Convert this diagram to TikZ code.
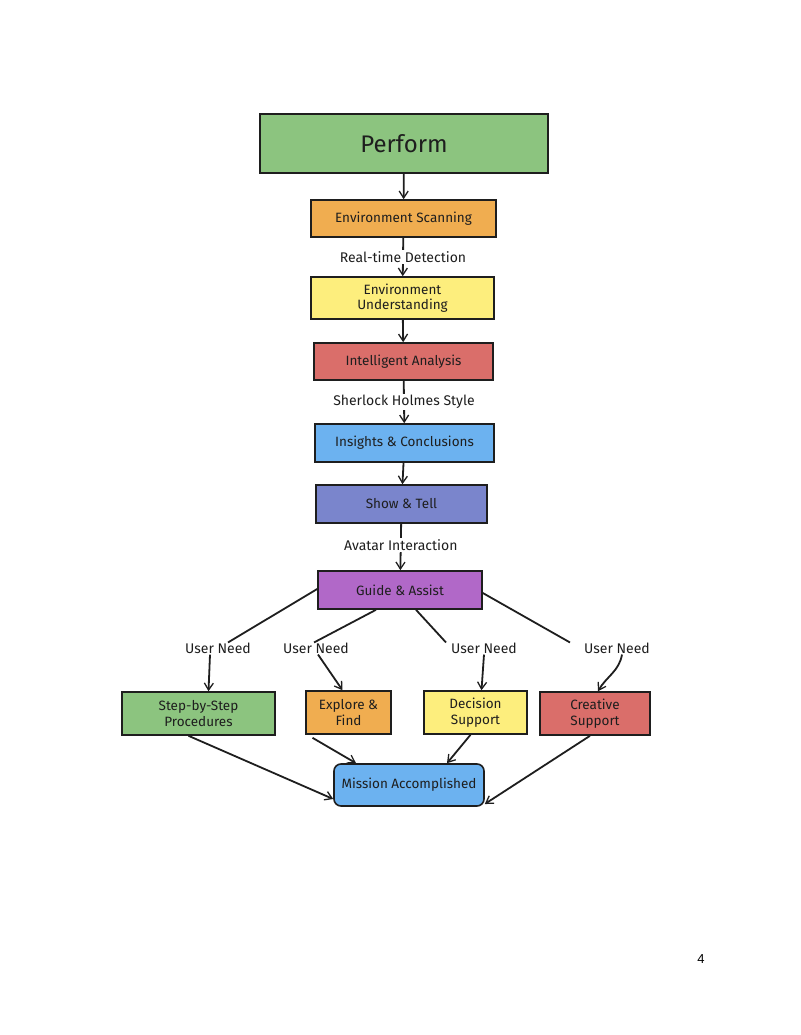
\documentclass[tikz,border=0pt]{standalone}
\usepackage{fontspec}
\setmainfont{Fira Sans}
\newfontfamily\pagefont{Liberation Sans}
\usetikzlibrary{arrows.meta,calc}
\definecolor{ink}{HTML}{1E1E1E}
\definecolor{cgreen}{RGB}{140,196,127}
\definecolor{corange}{RGB}{240,173,80}
\definecolor{cyellow}{RGB}{253,238,125}
\definecolor{cred}{RGB}{218,110,106}
\definecolor{cblue}{RGB}{108,178,240}
\definecolor{cindigo}{RGB}{122,133,204}
\definecolor{cpurple}{RGB}{177,104,200}
\tikzset{
  box/.style={draw=ink, line width=1.6pt, inner sep=0pt, align=center, font=\fontsize{13.5}{15.5}\selectfont, text=ink},
  lbl/.style={fill=white, inner sep=1.5pt, font=\fontsize{14}{16}\selectfont, text=ink},
  conn/.style={draw=ink, line width=1.8pt},
  arr/.style={conn, -{Straight Barb[length=7pt,width=9pt,line width=1.3pt]}},
}
\begin{document}
\begin{tikzpicture}[x=1pt,y=-1pt]
\useasboundingbox (0,0) rectangle (800,1035);
% nodes
\node[box, fill=cgreen, minimum width=288, minimum height=59, font=\fontsize{24}{28}\selectfont] (perf) at (404,143.5) {Perform};
\node[box, fill=corange, minimum width=185, minimum height=37] (scan) at (403.5,218.5) {Environment Scanning};
\node[box, fill=cyellow, minimum width=183, minimum height=42] (und) at (402.5,298) {Environment\\Understanding};
\node[box, fill=cred, minimum width=179, minimum height=37] (ana) at (403.5,361.5) {Intelligent Analysis};
\node[box, fill=cblue, minimum width=179, minimum height=38] (ins) at (404.5,443) {Insights \& Conclusions};
\node[box, fill=cindigo, minimum width=171, minimum height=38] (show) at (401.5,504) {Show \& Tell};
\node[box, fill=cpurple, minimum width=164, minimum height=38] (guide) at (400,590) {Guide \& Assist};
\node[box, fill=cgreen, minimum width=153, minimum height=43] (step) at (198.5,713.5) {Step-by-Step\\Procedures};
\node[box, fill=corange, minimum width=85, minimum height=43] (expl) at (348.5,712.5) {Explore \&\\Find};
\node[box, fill=cyellow, minimum width=103, minimum height=43] (dec) at (475.5,712.5) {Decision\\Support};
\node[box, fill=cred, minimum width=110, minimum height=43] (cre) at (595,713.5) {Creative\\Support};
\node[box, fill=cblue, minimum width=150, minimum height=42, rounded corners=7pt] (mis) at (409,785) {Mission Accomplished};
% vertical chain
\draw[arr] (perf) -- (scan);
\draw[arr] (scan) -- node[lbl] (l1) {Real-time Detection} (und);
\draw[arr] (und) -- (ana);
\draw[arr] (ana) -- node[lbl] (l2) {Sherlock Holmes Style} (ins);
\draw[arr] (ins) -- (show);
\draw[arr] (show) -- node[lbl, pos=0.45] (l3) {Avatar Interaction} (guide);
% user need labels
\node[lbl, inner sep=1pt] (u1) at (218,648) {User Need};
\node[lbl, inner sep=1pt] (u2) at (316,648) {User Need};
\node[lbl, inner sep=1pt] (u3) at (484,648) {User Need};
\node[lbl, inner sep=1pt] (u4) at (617,648) {User Need};
\draw[conn] ([yshift=1]guide.west) -- ([xshift=10,yshift=-1]u1.north);
\draw[conn] ([xshift=-24]guide.south) -- ([xshift=-2,yshift=-1]u2.north);
\draw[conn] ([xshift=16]guide.south) -- ([xshift=-38,yshift=-1]u3.north);
\draw[conn] ([yshift=-3]guide.east) -- ([xshift=-47,yshift=-1]u4.north);
\draw[arr] ([xshift=-8]u1.south) -- ([xshift=10]step.north);
\draw[arr] ([xshift=2]u2.south) -- ([xshift=-6]expl.north);
\draw[arr] (u3.south) -- ([xshift=6]dec.north);
\draw[arr] ([xshift=5]u4.south) to[out=-100,in=60] ([xshift=3]cre.north);
% to mission
\draw[arr] ([xshift=-10]step.south) -- ([yshift=-14]mis.west);
\draw[arr] ([xshift=-36,yshift=-3]expl.south) -- ([xshift=-53]mis.north);
\draw[arr] ([xshift=-5]dec.south) -- ([xshift=38]mis.north);
\draw[arr] ([xshift=-5]cre.south) -- ([yshift=-19]mis.east);
% page number
\node[font=\pagefont\fontsize{13}{15}\selectfont] (pg) at (701,959) {4};
\end{tikzpicture}
\end{document}
